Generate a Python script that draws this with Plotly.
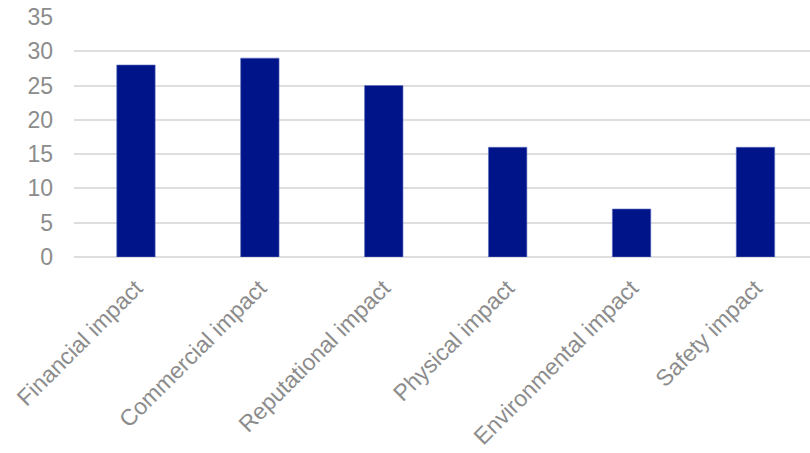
import plotly.graph_objects as go

categories = ["Financial impact", "Commercial impact", "Reputational impact",
              "Physical impact", "Environmental impact", "Safety impact"]
values = [28, 29, 25, 16, 7, 16]
y_ticks = [0, 5, 10, 15, 20, 25, 30, 35]

fig = go.Figure(go.Bar(
    x=categories, y=values,
    marker=dict(color="#001489", line=dict(color="#5f6fbf", width=0.6)),
))

fig.update_layout(
    width=810, height=453,
    margin=dict(l=74, r=0, t=17, b=196),
    paper_bgcolor="white", plot_bgcolor="white",
    bargap=0.69,
    showlegend=False,
    font=dict(family="Liberation Sans, Arial, sans-serif", size=23, color="#8c8c8c"),
)
fig.update_xaxes(
    range=[-0.5, 5.44], tickangle=-45, showgrid=False, showline=False,
    ticks="", ticklabelstandoff=12, tickfont=dict(size=23, color="#8c8c8c"),
)
fig.update_yaxes(
    range=[0, 35], tickvals=y_ticks, showgrid=True, gridcolor="#dedede", gridwidth=2,
    zeroline=True, zerolinecolor="#dedede", zerolinewidth=2,
    ticks="", ticklabelstandoff=20, tickfont=dict(size=23, color="#8c8c8c"),
)

fig.write_html("out.html")
